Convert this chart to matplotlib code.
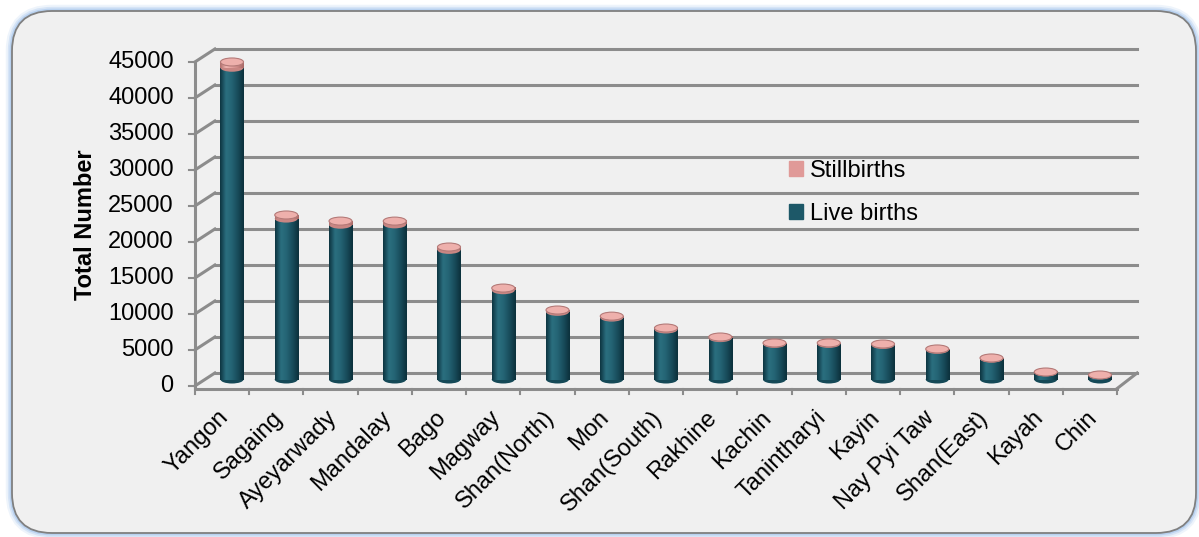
import numpy as np
import matplotlib.pyplot as plt
from matplotlib.patches import Ellipse, FancyBboxPatch, Patch
from matplotlib.colors import LinearSegmentedColormap

plt.rcParams['font.family'] = ['Liberation Sans', 'DejaVu Sans']

# data
regions = ['Yangon', 'Sagaing', 'Ayeyarwady', 'Mandalay', 'Bago', 'Magway',
           'Shan(North)', 'Mon', 'Shan(South)', 'Rakhine', 'Kachin',
           'Tanintharyi', 'Kayin', 'Nay Pyi Taw', 'Shan(East)', 'Kayah', 'Chin']
live_births = [43300, 22350, 21500, 21550, 18000, 12400, 9400, 8600, 6950,
               5750, 4950, 4950, 4800, 4120, 2900, 1000, 600]
stillbirths = [800, 500, 500, 450, 400, 300, 250, 200, 200,
               150, 120, 130, 130, 120, 90, 40, 25]
y_ticks = list(range(0, 45001, 5000))

W, H = 1199, 537
teal = '#1d5868'
pink = '#e09a98'
grid_col = '#8c8c8c'

fig = plt.figure(figsize=(W / 100, H / 100), dpi=100)
fig.patch.set_facecolor('white')

# background frame in pixel coords
bg = fig.add_axes([0, 0, 1, 1])
bg.set_xlim(0, W)
bg.set_ylim(H, 0)
bg.axis('off')
for lw, a in [(9, 0.15), (6, 0.25), (3.5, 0.4)]:
    bg.add_patch(FancyBboxPatch((12, 11), 1184, 522, boxstyle='round,pad=0,rounding_size=40',
                                fc='none', ec='#8fb8e8', lw=lw, alpha=a))
bg.add_patch(FancyBboxPatch((12, 11), 1184, 522, boxstyle='round,pad=0,rounding_size=40',
                            fc='#f0f0f0', ec='#808080', lw=1.3))

# main axes: x = category index, y = value (bar plane at mid depth)
ax = fig.add_axes([0, 0, 1, 1])
ax.patch.set_alpha(0)
ax.axis('off')
px_cat = 54.25
px_val = 0.0072
dx = 10 / px_cat
dy = 6.5 / px_val
n = len(regions)
x = np.arange(n)

# walls and gridlines
for v in y_ticks:
    ax.plot([-0.5 + dx, n - 0.5 + dx], [v + dy, v + dy], color=grid_col, lw=2.2, zorder=1)
    ax.plot([-0.5 - dx, -0.5 + dx], [v - dy, v + dy], color=grid_col, lw=2.2, zorder=1)
    ax.plot([-0.5 - dx - 0.1, -0.5 - dx], [v - dy, v - dy], color=grid_col, lw=1.5, zorder=1)
    ax.text(-0.5 - dx - 0.39, v - dy, str(v), ha='right', va='center', fontsize=17)
ax.plot([-0.5 - dx, -0.5 - dx], [-dy, y_ticks[-1] - dy], color=grid_col, lw=2.2, zorder=1)
ax.plot([-0.5 - dx, n - 0.5 - dx], [-dy - 350, -dy - 350], color=grid_col, lw=2.2, zorder=1)
ax.plot([n - 0.5 - dx, n - 0.5 + dx], [-dy - 350, dy], color=grid_col, lw=2.2, zorder=1)
for k in range(n + 1):
    ax.plot([k - 0.5 - dx, k - 0.5 - dx], [-dy - 350, -dy - 1100], color=grid_col, lw=1.5, zorder=1)

# cylinders
bw = 0.424
eh = 8 / px_val
teal_cmap = LinearSegmentedColormap.from_list('t', ['#0d3440', '#2b6f80', '#246373', '#184b5a', '#0c303b'])
pink_cmap = LinearSegmentedColormap.from_list('p', ['#b06e6c', '#f0b4b0', '#e4a19e', '#c98683', '#a86866'])
grad = np.linspace(0, 1, 64).reshape(1, -1)
totals = [a + b for a, b in zip(live_births, stillbirths)]

live_bars = ax.bar(x, live_births, width=bw, color=teal, zorder=3)
still_bars = ax.bar(x, stillbirths, bottom=live_births, width=bw, color=pink, zorder=5)
for rect, cm, z in [(r, teal_cmap, 3.1) for r in live_bars] + [(r, pink_cmap, 5.1) for r in still_bars]:
    x0, y0 = rect.get_x(), rect.get_y()
    ax.imshow(grad, cmap=cm, extent=[x0, x0 + rect.get_width(), y0, y0 + rect.get_height()],
              aspect='auto', interpolation='bicubic', zorder=z)
for i in range(n):
    ax.add_patch(Ellipse((x[i], 0), bw, eh, fc='#154957', ec='none', zorder=2.9))
    ax.add_patch(Ellipse((x[i], live_births[i]), bw, eh, fc='#c98683', ec='none', zorder=4))
    ax.add_patch(Ellipse((x[i], totals[i]), bw, eh, fc='#eeb0ac', ec='#b47a78', lw=0.8, zorder=6))

# category labels
for i, name in enumerate(regions):
    ax.text(x[i] - dx - 0.08, -dy - 2850, name, rotation=45, rotation_mode='anchor',
            ha='right', va='top', fontsize=17)

ax.set_xlim(-232 / px_cat, (W - 232) / px_cat)
ax.set_ylim(-(H - 379.5) / px_val, 379.5 / px_val)

fig.text(85 / W, 1 - 225 / H, 'Total Number', rotation=90, fontweight='bold',
         fontsize=17, ha='center', va='center')

ax.legend(handles=[Patch(color=pink, label='Stillbirths'), Patch(color=teal, label='Live births')],
          loc='upper left', bbox_to_anchor=(789 / W, 1 - 160 / H), frameon=False, fontsize=17,
          handlelength=0.6, handleheight=0.6, handletextpad=0.3, labelspacing=0.9, borderpad=0,
          borderaxespad=0)

fig.savefig('out.png', dpi=100)
